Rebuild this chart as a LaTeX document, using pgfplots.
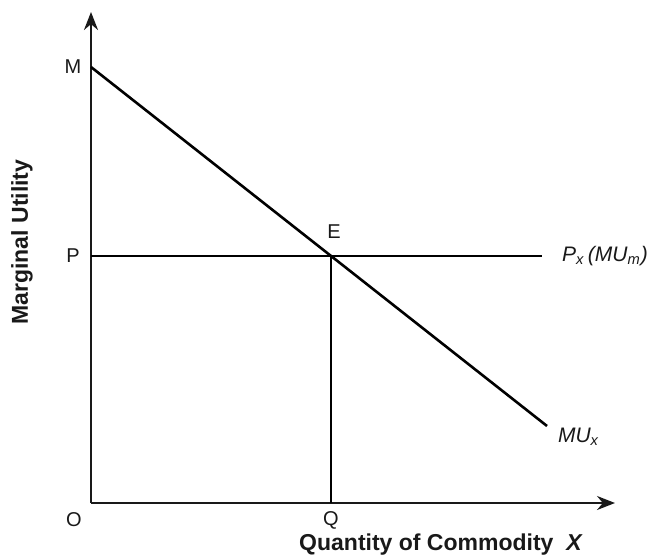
\documentclass[border=0pt]{standalone}
\usepackage{pgfplots}
\pgfplotsset{compat=1.18}
\usepackage{fontspec}
\setmainfont{Liberation Sans}
\usetikzlibrary{arrows.meta}
\definecolor{ink}{RGB}{25,25,25}
\begin{document}
\begin{tikzpicture}[font=\fontsize{10}{12}\selectfont]
\begin{axis}[
  scale only axis,
  x=0.5pt, y=0.5pt,
  xmin=0, xmax=524, ymin=0, ymax=491,
  axis line style={draw=none},
  ticks=none,
  clip=false,
]
% axes with arrows
\addplot[ink, line width=1pt, -{Stealth[length=9pt,width=7pt]}] coordinates {(0,0) (0,491)};
\addplot[ink, line width=1pt, -{Stealth[length=9pt,width=7pt]}] coordinates {(0,0) (524,0)};
% MU_x line
\addplot[black, line width=1.3pt] coordinates {(0,436) (456,77)};
% price line
\addplot[black, line width=1.3pt] coordinates {(0,247) (451,247)};
% Q vertical
\addplot[black, line width=1.3pt] coordinates {(240,0) (240,247)};
% labels
\node[ink] at (axis cs:-18,436) {M};
\node[ink] at (axis cs:-18,247) {P};
\node[ink] at (axis cs:-17,-17) {O};
\node[ink] at (axis cs:240,-17) {Q};
\node[ink] at (axis cs:243,271) {E};
\node[ink, anchor=west, font=\fontsize{10.5}{12}\selectfont] at (axis cs:464,247) {\itshape P\textsubscript{x}\,(MU\textsubscript{m})};
\node[ink, anchor=west, font=\fontsize{10.5}{12}\selectfont] at (axis cs:460,66) {\itshape MU\textsubscript{x}};
\node[ink, rotate=90, font=\fontsize{11.5}{13}\selectfont\bfseries] at (axis cs:-69,261) {Marginal Utility};
\node[ink, font=\fontsize{11.5}{13}\selectfont\bfseries] at (axis cs:350,-42) {Quantity of Commodity~~\textit{X}};
\coordinate (bl) at (axis cs:-91,-55);
\coordinate (tr) at (axis cs:562,503);
\end{axis}
\pgfresetboundingbox
\path[use as bounding box] (bl) rectangle (tr);
\end{tikzpicture}
\end{document}
